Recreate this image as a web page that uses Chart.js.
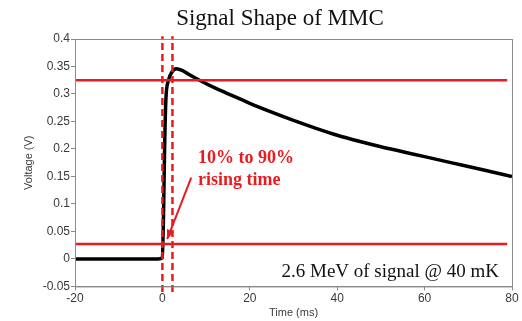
<!DOCTYPE html>
<html lang="en">
<head>
    <meta charset="UTF-8">
    <title>Signal Shape of MMC</title>
    <script src="https://cdn.jsdelivr.net/npm/chart.js@4.4.0/dist/chart.umd.min.js"></script>
    <style>
        body { margin: 0; background: #fff; }
        #wrap { width: 522px; height: 321px; }
    </style>
</head>
<body>
    <div id="wrap"><canvas id="chart-signal"></canvas></div>

    <script>
        // signal (time in ms, voltage in V)
        var times = [-20, -15, -10, -5, -1, 0, 0.3, 0.5, 0.8, 1.4, 2.2, 3.2, 4.5, 6, 8.5, 12, 16, 20, 25, 30, 35, 40, 45, 50, 55, 60, 65, 70, 75, 80];
        var volts = [0, 0, 0, 0, 0, 0.002, 0.1, 0.2, 0.29, 0.325, 0.34, 0.346, 0.343, 0.336, 0.325, 0.311, 0.297, 0.283, 0.267, 0.252, 0.238, 0.225, 0.214, 0.204, 0.195, 0.186, 0.177, 0.168, 0.159, 0.150];

        // 10% / 90% levels and rise-time markers
        var levels = [0.027, 0.325];
        var levelSpan = [-20, 78.9];
        var riseMarks = [0, 2.3];
        var markSpan = [-0.06, 0.405];
        var arrowFrom = [6.6, 0.148];
        var arrowTo = [1.1, 0.036];

        var xTicks = [-20, 0, 20, 40, 60, 80];
        var yTicks = [-0.05, 0, 0.05, 0.1, 0.15, 0.2, 0.25, 0.3, 0.35, 0.4];

        var red = 'rgb(232, 28, 32)';
        var axisGray = '#8a8a8a';
        var tickColor = '#3a3a3a';

        var datasets = [];
        levels.forEach(function (lv) {
            datasets.push({
                data: [{ x: levelSpan[0], y: lv }, { x: levelSpan[1], y: lv }],
                borderColor: red, borderWidth: 2.5, pointRadius: 0, order: 1
            });
        });
        riseMarks.forEach(function (t) {
            datasets.push({
                data: [{ x: t, y: markSpan[0] }, { x: t, y: markSpan[1] }],
                borderColor: red, borderWidth: 2.5, borderDash: [7, 4], pointRadius: 0,
                clip: false, order: 1
            });
        });
        datasets.push({
            data: [{ x: arrowFrom[0], y: arrowFrom[1] }, { x: arrowTo[0], y: arrowTo[1] }],
            borderColor: red, borderWidth: 2, pointRadius: 0, order: 1
        });
        datasets.push({
            data: times.map(function (t, i) { return { x: t, y: volts[i] }; }),
            borderColor: '#000', borderWidth: 3.5, pointRadius: 0,
            cubicInterpolationMode: 'monotone', order: 2
        });

        var decor = {
            id: 'decor',
            afterDatasetsDraw: function (chart) {
                var ctx = chart.ctx;
                var a = chart.chartArea;
                var xs = chart.scales.x, ys = chart.scales.y;
                ctx.save();

                // axes box
                ctx.strokeStyle = axisGray;
                ctx.lineWidth = 1;
                ctx.strokeRect(a.left + 0.5, a.top + 0.5, a.right - a.left, a.bottom - a.top);

                // arrow head
                var x1 = xs.getPixelForValue(arrowFrom[0]), y1 = ys.getPixelForValue(arrowFrom[1]);
                var x2 = xs.getPixelForValue(arrowTo[0]), y2 = ys.getPixelForValue(arrowTo[1]);
                var ang = Math.atan2(y2 - y1, x2 - x1);
                ctx.fillStyle = red;
                ctx.beginPath();
                ctx.moveTo(x2, y2);
                ctx.lineTo(x2 - 10 * Math.cos(ang - 0.4), y2 - 10 * Math.sin(ang - 0.4));
                ctx.lineTo(x2 - 10 * Math.cos(ang + 0.4), y2 - 10 * Math.sin(ang + 0.4));
                ctx.closePath();
                ctx.fill();

                // title
                ctx.fillStyle = '#111';
                ctx.textAlign = 'center';
                ctx.textBaseline = 'alphabetic';
                ctx.font = '23px "Liberation Serif", "DejaVu Serif", serif';
                ctx.fillText('Signal Shape of MMC', 280, 25);

                // rise time note
                ctx.fillStyle = red;
                ctx.textAlign = 'left';
                ctx.font = 'bold 18px "Liberation Serif", serif';
                ctx.fillText('10% to 90%', 198, 163);
                ctx.fillText('rising time', 198, 185);

                // measurement note
                ctx.fillStyle = '#111';
                ctx.textAlign = 'right';
                ctx.font = '19px "Liberation Serif", serif';
                ctx.fillText('2.6 MeV of signal @ 40 mK', 499, 277);
                ctx.restore();
            }
        };

        var ctx = document.getElementById('chart-signal').getContext('2d');
        var chart = new Chart(ctx, {
            type: 'line',
            data: { datasets: datasets },
            options: {
                responsive: true,
                maintainAspectRatio: false,
                animation: false,
                layout: { padding: { top: 39, right: 10, left: 22, bottom: 0 } },
                plugins: { legend: { display: false }, tooltip: { enabled: false } },
                scales: {
                    x: {
                        type: 'linear', min: -20, max: 80,
                        afterBuildTicks: function (s) { s.ticks = xTicks.map(function (v) { return { value: v }; }); },
                        ticks: { color: tickColor, font: { family: 'Liberation Sans', size: 12 }, padding: 1, maxRotation: 0 },
                        grid: { drawOnChartArea: false, tickLength: 4, color: axisGray },
                        border: { color: axisGray },
                        title: { display: true, text: 'Time (ms)', color: tickColor, font: { family: 'Liberation Sans', size: 11 }, padding: { top: 0, bottom: 1 } }
                    },
                    y: {
                        min: -0.05, max: 0.4,
                        afterBuildTicks: function (s) { s.ticks = yTicks.map(function (v) { return { value: v }; }); },
                        afterFit: function (s) { s.width = 53; },
                        ticks: {
                            color: tickColor, font: { family: 'Liberation Sans', size: 12 }, padding: 1,
                            callback: function (v) { return String(Number(v.toFixed(2))); }
                        },
                        grid: { drawOnChartArea: false, tickLength: 4, color: axisGray },
                        border: { color: axisGray },
                        title: { display: true, text: 'Voltage (V)', color: tickColor, font: { family: 'Liberation Sans', size: 11 }, padding: 0 }
                    }
                }
            },
            plugins: [decor]
        });
    </script>
</body>
</html>
